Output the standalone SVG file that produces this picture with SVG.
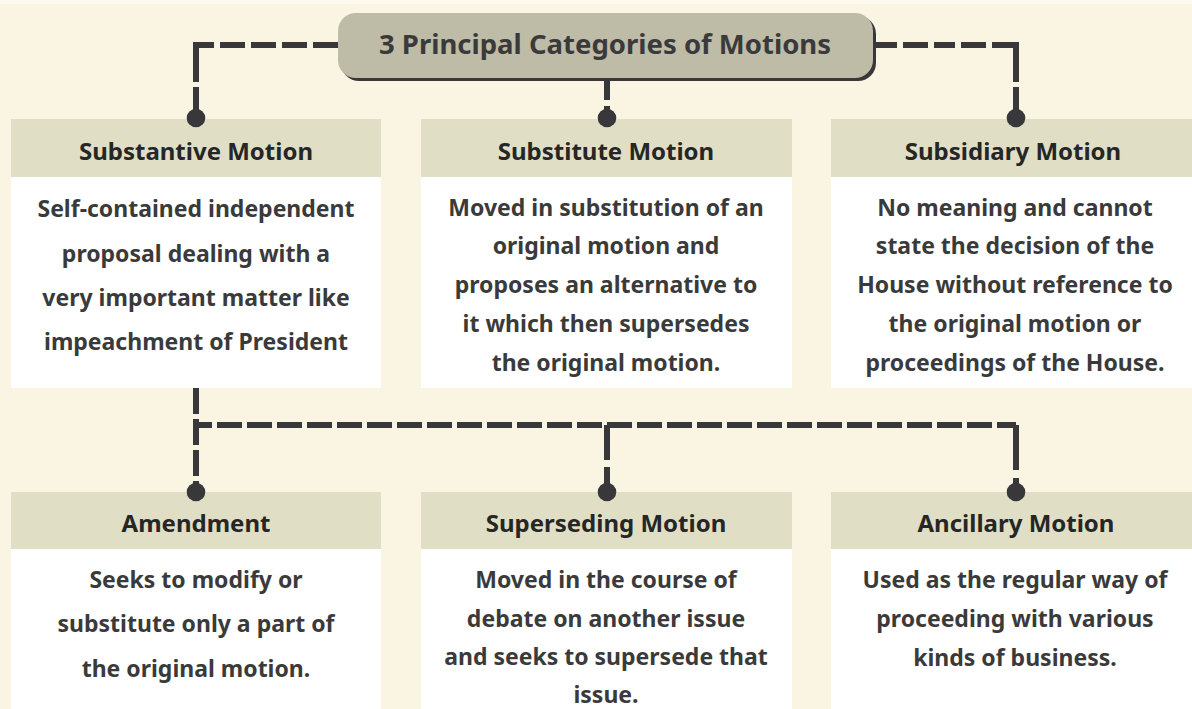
<svg xmlns="http://www.w3.org/2000/svg" width="1192" height="709" viewBox="0 0 1192 709">
<style>
.bg{fill:#faf5e3}
.hdr{fill:#e0dfc5}
.body{fill:#ffffff}
.ht{font-family:"Noto Sans","Open Sans",sans-serif;font-weight:700;font-size:24px;fill:#262626;text-anchor:middle}
.bt{font-family:"Noto Sans","Open Sans",sans-serif;font-weight:700;font-size:23px;fill:#3a3a3a;text-anchor:middle}
.tt{font-family:"Noto Sans","Open Sans",sans-serif;font-weight:700;font-size:27.5px;fill:#3a3a3a;text-anchor:middle}
.ln{fill:none;stroke:#38373a;stroke-width:6}
.dot{fill:#38373a}
</style>
<rect class="bg" x="0" y="0" width="1192" height="709"/>
<rect x="0" y="0" width="1192" height="4" fill="#fcf9ee"/>

<g id="title">
  <rect x="341" y="16" width="535" height="65" rx="18" fill="#38373a"/>
  <rect x="338" y="13" width="535" height="65" rx="18" fill="#bebba7"/>
  <text class="tt" x="605" y="54">3 Principal Categories of Motions</text>
</g>

<g id="substantive">
  <rect class="hdr" x="11" y="119" width="370" height="58"/>
  <rect class="body" x="11" y="177" width="370" height="211"/>
  <text class="ht" x="196" y="160">Substantive Motion</text>
  <text class="bt" x="196" y="217">Self-contained independent</text>
  <text class="bt" x="196" y="262">proposal dealing with a</text>
  <text class="bt" x="196" y="306">very important matter like</text>
  <text class="bt" x="196" y="350">impeachment of President</text>
</g>

<g id="substitute">
  <rect class="hdr" x="421" y="119" width="371" height="58"/>
  <rect class="body" x="421" y="177" width="371" height="211"/>
  <text class="ht" x="606" y="160">Substitute Motion</text>
  <text class="bt" x="606" y="216">Moved in substitution of an</text>
  <text class="bt" x="606" y="254">original motion and</text>
  <text class="bt" x="606" y="293">proposes an alternative to</text>
  <text class="bt" x="606" y="332">it which then supersedes</text>
  <text class="bt" x="606" y="371">the original motion.</text>
</g>

<g id="subsidiary">
  <rect class="hdr" x="831" y="119" width="361" height="58"/>
  <rect class="body" x="831" y="177" width="361" height="211"/>
  <text class="ht" x="1013" y="160">Subsidiary Motion</text>
  <text class="bt" x="1015" y="216">No meaning and cannot</text>
  <text class="bt" x="1015" y="254">state the decision of the</text>
  <text class="bt" x="1015" y="293">House without reference to</text>
  <text class="bt" x="1015" y="332">the original motion or</text>
  <text class="bt" x="1015" y="371">proceedings of the House.</text>
</g>

<g id="amendment">
  <rect class="hdr" x="11" y="492" width="370" height="57"/>
  <rect class="body" x="11" y="549" width="370" height="160"/>
  <text class="ht" x="196" y="532">Amendment</text>
  <text class="bt" x="196" y="588">Seeks to modify or</text>
  <text class="bt" x="196" y="632">substitute only a part of</text>
  <text class="bt" x="196" y="677">the original motion.</text>
</g>

<g id="superseding">
  <rect class="hdr" x="421" y="492" width="371" height="57"/>
  <rect class="body" x="421" y="549" width="371" height="160"/>
  <text class="ht" x="606" y="532">Superseding Motion</text>
  <text class="bt" x="606" y="588">Moved in the course of</text>
  <text class="bt" x="606" y="627">debate on another issue</text>
  <text class="bt" x="606" y="665">and seeks to supersede that</text>
  <text class="bt" x="606" y="703">issue.</text>
</g>

<g id="ancillary">
  <rect class="hdr" x="831" y="492" width="361" height="57"/>
  <rect class="body" x="831" y="549" width="361" height="160"/>
  <text class="ht" x="1016" y="532">Ancillary Motion</text>
  <text class="bt" x="1015" y="588">Used as the regular way of</text>
  <text class="bt" x="1015" y="627">proceeding with various</text>
  <text class="bt" x="1015" y="666">kinds of business.</text>
</g>

<g id="connectors">
  <path class="ln" d="M338,45 H196" stroke-dasharray="25 6"/>
  <path class="ln" d="M196,42 V118" stroke-dasharray="40 5 23 8"/>
  <path class="ln" d="M876,45 H1016" stroke-dasharray="21 6 25 6"/>
  <path class="ln" d="M1016,42 V118" stroke-dasharray="40 5 23 8"/>
  <path class="ln" d="M607,81 V118" stroke-dasharray="19 6"/>
  <path class="ln" d="M196,425 H1016" stroke-dasharray="25 5" stroke-dashoffset="9"/>
  <path class="ln" d="M196,388 V492" stroke-dasharray="26 5"/>
  <path class="ln" d="M607,425 V492" stroke-dasharray="35 7"/>
  <path class="ln" d="M1016,425 V492" stroke-dasharray="45 8"/>
  <circle class="dot" cx="196" cy="118" r="9.3"/>
  <circle class="dot" cx="607" cy="118" r="9.3"/>
  <circle class="dot" cx="1016" cy="118" r="9.3"/>
  <circle class="dot" cx="196" cy="492" r="9.3"/>
  <circle class="dot" cx="607" cy="492" r="9.3"/>
  <circle class="dot" cx="1016" cy="492" r="9.3"/>
</g>
</svg>
